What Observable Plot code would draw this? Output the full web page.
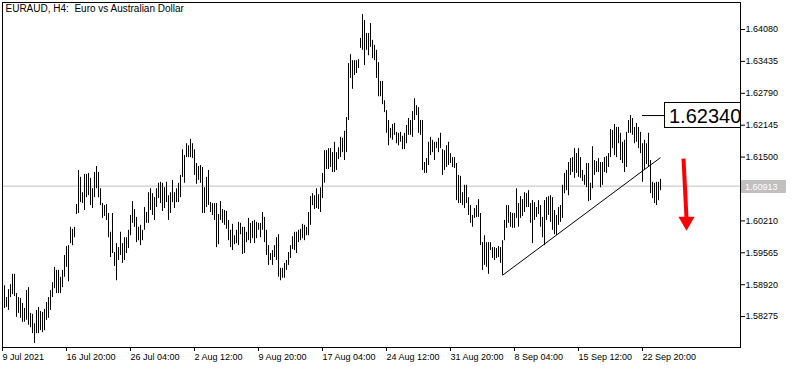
<!DOCTYPE html>
<html><head><meta charset="utf-8">
<script src="https://cdn.jsdelivr.net/npm/d3@7"></script>
<script src="https://cdn.jsdelivr.net/npm/@observablehq/plot@0.6"></script>
<style>
html,body{margin:0;padding:0;background:#fff;}
#chart svg{display:block;}
svg text{white-space:pre;}
</style></head><body><div id="chart"></div>
<script>
const title = "EURAUD, H4:  Euro vs Australian Dollar";
const high = [
1.5890,1.5866,1.5882,1.5892,1.5913,1.5913,1.5874,1.5866,1.5864,1.5854,
1.5844,1.5880,1.5886,1.5834,1.5832,1.5813,1.5840,1.5846,1.5838,1.5836,
1.5842,1.5856,1.5866,1.5880,1.5896,1.5927,1.5921,1.5921,1.5907,1.5921,
1.5951,1.5969,1.5971,1.6008,1.6004,1.6008,1.6054,1.6123,1.6109,1.6078,
1.6115,1.6115,1.6117,1.6107,1.6086,1.6119,1.6131,1.6119,1.6086,1.6056,
1.6052,1.6054,1.6036,1.5998,1.6036,1.5957,1.5975,1.5967,1.5998,1.5975,
1.5987,1.5987,1.6002,1.6032,1.6060,1.6044,1.6028,1.6008,1.6012,1.6002,
1.6048,1.6038,1.6078,
1.6086,1.6076,1.6068,1.6086,1.6097,1.6099,1.6097,
1.6088,1.6099,1.6072,1.6078,1.6103,1.6078,1.6086,1.6097,1.6113,1.6165,
1.6153,1.6177,1.6173,1.6186,1.6177,1.6165,1.6137,1.6131,1.6133,1.6129,
1.6088,1.6109,1.6123,1.6058,1.6056,1.6056,1.6056,1.6034,1.6060,1.6044,
1.6042,1.6040,1.6022,1.6002,1.6014,1.5991,1.6002,1.6018,1.6016,1.6008,
1.6008,1.5998,1.6026,1.6016,1.6020,1.6022,1.6018,1.6016,1.6016,1.6038,
1.6028,1.6002,1.5971,1.5955,1.5961,1.5971,1.5987,1.5993,1.5925,1.5925,
1.5935,1.5941,1.5957,1.5971,1.5989,1.5998,1.5998,
1.6002,1.6004,1.6014,
1.6012,1.6008,1.6038,1.6070,1.6076,1.6072,1.6086,1.6074,1.6088,1.6117,
1.6163,1.6163,1.6167,1.6167,1.6159,1.6180,1.6159,1.6169,1.6190,1.6188,
1.6202,1.6230,1.6339,1.6357,1.6345,1.6345,1.6345,1.6347,1.6390,1.6438,
1.6426,1.6400,1.6400,1.6420,1.6386,1.6376,1.6366,1.6341,1.6303,1.6303,
1.6264,1.6244,1.6224,1.6208,1.6216,1.6218,1.6200,1.6198,1.6200,1.6192,
1.6198,1.6214,1.6228,1.6224,1.6242,1.6268,1.6254,1.6250,1.6224,1.6224,
1.6139,1.6147,1.6180,1.6190,1.6184,1.6180,1.6180,1.6188,1.6198,1.6165,
1.6163,1.6173,1.6180,1.6157,1.6149,1.6149,1.6137,1.6113,1.6111,1.6078,
1.6093,1.6093,1.6068,1.6052,1.6032,1.6046,1.6052,1.6064,1.6036,1.5977,
1.5991,1.5977,1.5977,1.5977,1.5967,1.5967,1.5965,1.5969,1.5967,1.5981,
1.6022,1.6052,1.6052,1.6038,1.6036,1.6036,1.6086,1.6056,1.6070,1.6064,
1.6078,1.6076,1.6082,1.6056,1.6062,1.6058,1.6048,1.6062,1.6052,1.6028,
1.6062,1.6068,1.6070,1.6072,1.6068,1.6042,1.6032,1.6048,1.6052,1.6093,
1.6117,1.6123,1.6139,1.6147,1.6149,1.6167,1.6157,1.6167,1.6149,1.6123,
1.6113,1.6137,1.6137,1.6097,1.6171,
1.6143,1.6141,1.6147,1.6139,1.6139,
1.6149,1.6151,1.6157,1.6206,1.6204,1.6216,1.6210,1.6210,1.6198,1.6180,
1.6184,1.6200,1.6224,1.6234,1.6228,1.6210,1.6218,1.6210,1.6200,1.6177,
1.6184,1.6177,1.6198,1.6143,1.6099,1.6097,1.6099,1.6099,1.6105
];
const low = [
1.5844,1.5846,1.5840,1.5866,1.5872,1.5868,1.5826,1.5834,1.5824,1.5816,
1.5816,1.5820,1.5810,1.5805,1.5793,1.5773,1.5793,1.5793,1.5799,1.5795,
1.5799,1.5820,1.5824,1.5840,1.5866,1.5884,1.5874,1.5874,1.5874,1.5886,
1.5907,1.5927,1.5898,1.5975,1.5971,1.5987,1.6034,1.6036,1.6058,1.6056,
1.6042,1.6068,1.6072,1.6052,1.6046,1.6068,1.6086,1.6068,1.6052,1.6026,
1.6030,1.6022,1.5987,1.5947,1.5955,1.5929,1.5900,1.5941,1.5951,1.5935,
1.5941,1.5955,1.5965,1.5991,1.6016,1.6008,1.5977,1.5981,1.5971,1.5981,
1.6002,1.6016,1.6016,
1.6042,1.6032,1.6022,1.6048,1.6066,1.6056,1.6040,
1.6046,1.6058,1.6022,1.6036,1.6058,1.6046,1.6058,1.6058,1.6068,1.6109,
1.6097,1.6149,1.6149,1.6149,1.6147,1.6113,1.6095,1.6103,1.6097,1.6036,
1.6036,1.6048,1.6052,1.6038,1.6032,1.6022,1.5967,1.5973,1.6022,1.6016,
1.6012,1.6004,1.5981,1.5967,1.5961,1.5973,1.5975,1.5971,1.5993,1.5953,
1.5955,1.5977,1.5981,1.5975,1.5985,1.5975,1.5985,1.6002,1.5987,1.6002,
1.5977,1.5951,1.5931,1.5941,1.5931,1.5947,1.5941,1.5907,1.5900,1.5905,
1.5905,1.5921,1.5931,1.5945,1.5963,1.5961,1.5955,
1.5977,1.5981,1.5985,
1.5981,1.5991,1.5991,1.6012,1.6052,1.6044,1.6046,1.6044,1.6038,1.6066,
1.6097,1.6125,1.6125,1.6129,1.6119,1.6119,1.6123,1.6145,1.6149,1.6159,
1.6143,1.6159,1.6224,1.6309,1.6287,1.6315,1.6319,1.6329,1.6370,1.6366,
1.6335,1.6366,1.6355,1.6372,1.6349,1.6345,1.6309,1.6272,1.6272,1.6256,
1.6240,1.6198,1.6173,1.6188,1.6184,1.6194,1.6177,1.6173,1.6180,1.6165,
1.6165,1.6177,1.6194,1.6194,1.6190,1.6224,1.6234,1.6198,1.6194,1.6123,
1.6117,1.6117,1.6133,1.6153,1.6159,1.6143,1.6167,1.6159,1.6167,1.6113,
1.6123,1.6129,1.6133,1.6137,1.6129,1.6127,1.6062,1.6056,1.6056,1.6052,
1.6046,1.6056,1.6032,1.6016,1.6008,1.6026,1.6028,1.6028,1.5971,1.5921,
1.5931,1.5927,1.5913,1.5961,1.5945,1.5941,1.5945,1.5947,1.5935,1.5911,
1.5981,1.6006,1.6016,1.6008,1.6006,1.6006,1.6026,1.6008,1.6026,1.6030,
1.6038,1.6048,1.6048,1.6016,1.5975,1.6022,1.6028,1.6034,1.6008,1.5987,
1.5971,1.6022,1.6032,1.6018,1.6002,1.5993,1.5991,1.6012,1.6018,1.6026,
1.6076,1.6082,1.6072,1.6113,1.6119,1.6107,1.6117,1.6109,1.6107,1.6101,
1.6093,1.6088,1.6060,1.6062,1.6086,
1.6113,1.6119,1.6119,1.6088,1.6093,
1.6119,1.6117,1.6129,1.6149,1.6167,1.6153,1.6149,1.6177,1.6143,1.6137,
1.6119,1.6129,1.6198,1.6198,1.6194,1.6177,1.6180,1.6167,1.6157,1.6099,
1.6123,1.6135,1.6129,1.6076,1.6066,1.6056,1.6052,1.6062,1.6082
];
const xTickIndex = [-1,31,63,95,127,159,191,223,255,287,319];
const xTickLabels = ["9 Jul 2021","16 Jul 20:00","26 Jul 04:00","2 Aug 12:00","9 Aug 20:00","17 Aug 04:00","24 Aug 12:00","31 Aug 20:00","8 Sep 04:00","15 Sep 12:00","22 Sep 20:00"];
const yTicks = [1.64080,1.63435,1.62790,1.62145,1.61500,1.60210,1.59565,1.58920,1.58275];
const lastPrice = 1.60913;
const markedPrice = 1.62340;
const markedFrom = 319, markedTo = 330;
const trend = [{i1: 249, p1: 1.5911, i2: 328, p2: 1.6149}];
const arrowShaft = [{i1: 339.5, p1: 1.6147, i2: 341, p2: 1.6026}];
const arrowHead = [{i: 341, p: 1.6020}];

const bars = high.map((h, i) => ({i, high: h, low: low[i]}));
const labelMap = new Map(xTickIndex.map((d, k) => [d, xTickLabels[k]]));
const font = "'Liberation Sans', Arial, sans-serif";

const chart = Plot.plot({
  width: 793, height: 369,
  marginLeft: 2, marginRight: 53, marginTop: 2, marginBottom: 22,
  style: {fontFamily: font, fontSize: "9px", background: "#fff", color: "#000"},
  x: {domain: [-1, 368], axis: null},
  y: {domain: [1.57650, 1.64626], axis: null},
  marks: [
    Plot.ruleY([lastPrice], {stroke: "#c0c0c0"}),
    Plot.ruleX(bars, {x: "i", y1: "low", y2: "high", stroke: "#000", strokeWidth: 1}),
    Plot.link(trend, {x1: "i1", y1: "p1", x2: "i2", y2: "p2", stroke: "#000", strokeWidth: 1}),
    Plot.ruleY([markedPrice], {x1: markedFrom, x2: markedTo, stroke: "#000"}),
    Plot.link(arrowShaft, {x1: "i1", y1: "p1", x2: "i2", y2: "p2", stroke: "#ff0000", strokeWidth: 4}),
    Plot.dot(arrowHead, {x: "i", y: "p", symbol: "triangle", r: 6, rotate: 180, fill: "#ff0000", stroke: "none"}),
    Plot.axisY(yTicks, {anchor: "right", tickSize: 4, tickPadding: 1, tickFormat: d3.format(".5f"), fontSize: 9}),
    Plot.axisX(xTickIndex, {anchor: "bottom", tickSize: 4, tickPadding: 2, tickFormat: d => labelMap.get(d), textAnchor: "start", fontSize: 9}),
    Plot.frame({stroke: "#000"}),
    Plot.text([title], {frameAnchor: "top-left", textAnchor: "start", lineAnchor: "top", dx: 3, dy: 2, fontSize: 10, fill: "#000"})
  ]
});
document.getElementById("chart").appendChild(chart);

const xs = chart.scale("x"), ys = chart.scale("y");
const svg = d3.select(chart);
// current price tag on the axis
const yL = Math.round(ys.apply(lastPrice));
const g1 = svg.append("g").attr("text-anchor", "start");
g1.append("rect").attr("x", 741).attr("y", yL - 6).attr("width", 45).attr("height", 13).attr("fill", "#c0c0c0");
g1.append("text").attr("x", 745).attr("y", yL + 4).attr("fill", "#fff").attr("text-anchor", "start")
  .attr("font-family", font).attr("font-size", 9).text(d3.format(".5f")(lastPrice));
// marked price box
const yM = Math.round(ys.apply(markedPrice));
const xM = Math.round(xs.apply(markedTo));
const g2 = svg.append("g").attr("text-anchor", "start");
g2.append("rect").attr("x", xM + 0.5).attr("y", yM - 12.5).attr("width", 740 - xM).attr("height", 25)
  .attr("fill", "#fff").attr("stroke", "#000");
g2.append("text").attr("x", xM + 5).attr("y", yM + 7.5).attr("fill", "#000").attr("text-anchor", "start")
  .attr("font-family", font).attr("font-size", 20).text(d3.format(".5f")(markedPrice));
</script></body></html>
